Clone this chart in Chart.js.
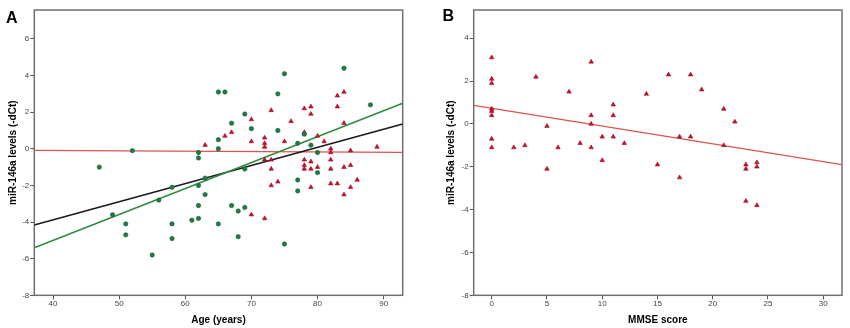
<!DOCTYPE html>
<html>
<head>
<meta charset="utf-8">
<script src="https://cdn.jsdelivr.net/npm/chart.js@4/dist/chart.umd.min.js"></script>
<style>
    body { margin: 0; background: #fff; }
    .wrap { position: relative; width: 850px; height: 328px; }
    canvas { position: absolute; top: 0; }
    #chartA { left: 0; }
    #chartB { left: 425px; }
</style>
</head>
<body>
<div class="wrap">
    <canvas id="chartA" width="425" height="328"></canvas>
    <canvas id="chartB" width="425" height="328"></canvas>
</div>
<script>
// Panel A: age vs miR-146a (green circles = controls, red triangles = AD)
const ageGreen = [47, 49, 51, 51, 52, 55, 56, 58, 58, 58, 61, 62, 62, 62, 62, 62, 63, 63, 65, 65, 65, 65, 66, 67, 67, 68, 68, 69, 69, 69, 70, 74, 74, 75, 75, 77, 77, 77, 78, 79, 80, 80, 84, 88];
const mirGreen = [-1.0, -3.6, -4.1, -4.7, -0.1, -5.8, -2.8, -2.1, -4.1, -4.9, -3.9, -0.2, -0.5, -2.0, -3.1, -3.8, -1.6, -2.5, 3.1, 0.5, 0.0, -4.1, 3.1, 1.4, -3.1, -3.4, -4.8, 1.9, -1.1, -3.2, 1.1, 3.0, 1.0, 4.1, -5.2, 0.3, -1.7, -2.3, 0.8, 0.2, -0.2, -1.3, 4.4, 2.4];
const ageRed = [63, 66, 67, 70, 70, 70, 72, 72, 72, 72, 72, 73, 73, 73, 73, 74, 75, 76, 78, 78, 78, 78, 78, 79, 79, 79, 79, 79, 80, 80, 81, 82, 82, 82, 82, 82, 83, 83, 83, 84, 84, 84, 84, 85, 85, 85, 86, 89];
const mirRed = [0.2, 0.7, 0.9, 1.6, 0.4, -3.6, 0.6, 0.3, 0.1, -0.6, -3.8, 2.1, -0.6, -1.1, -2.0, -1.8, 0.4, 1.5, 2.2, 0.9, -0.6, -0.9, -1.1, 2.3, 1.9, -0.7, -1.1, -2.1, 0.7, -1.0, 0.4, 0.0, -0.2, -0.6, -1.1, -1.9, 2.9, 2.3, -1.9, 3.1, 1.4, -1.0, -2.5, -0.1, -0.9, -2.1, -1.7, 0.1];

// fit lines, read at the ends of the x axis
const fitXA = [37.17, 92.88];
const fitRedA = [-0.09, -0.2];
const fitBlackA = [-4.16, 1.35];
const fitGreenA = [-5.4, 2.49];

const xTicksA = [40, 50, 60, 70, 80, 90];
const yTicksA = [-8, -6, -4, -2, 0, 2, 4, 6];

// Panel B: MMSE vs miR-146a
const mmse = [0, 0, 0, 0, 0, 0, 0, 0, 2, 3, 4, 5, 5, 6, 7, 8, 9, 9, 9, 9, 10, 10, 11, 11, 11, 12, 14, 15, 16, 17, 17, 18, 18, 19, 21, 21, 22, 23, 23, 23, 24, 24, 24];
const mirB = [3.1, 2.1, 1.9, 0.7, 0.6, 0.4, -0.7, -1.1, -1.1, -1.0, 2.2, -0.1, -2.1, -1.1, 1.5, -0.9, 2.9, 0.4, 0.0, -1.1, -0.6, -1.7, 0.9, 0.4, -0.6, -0.9, 1.4, -1.9, 2.3, -0.6, -2.5, 2.3, -0.6, 1.6, 0.7, -1.0, 0.1, -1.9, -2.1, -3.6, -1.8, -2.0, -3.8];

const fitXB = [-1.63, 31.7];
const fitRedB = [0.87, -1.9];

const xTicksB = [0, 5, 10, 15, 20, 25, 30];
const yTicksB = [-8, -6, -4, -2, 0, 2, 4];

const FONT = "'Liberation Sans', Arial, sans-serif";
const toPts = (xs, ys) => xs.map((x, i) => ({ x: x, y: ys[i] }));

// grey box round the plot area + panel letter
const framePlugin = {
    id: "frame",
    beforeDatasetsDraw(chart) {
        const a = chart.chartArea;
        const ctx = chart.ctx;
        ctx.save();
        ctx.strokeStyle = "#707070";
        ctx.lineWidth = 1.5;
        ctx.strokeRect(a.left, a.top, a.right - a.left, a.bottom - a.top);
        ctx.restore();
    },
    afterDraw(chart, args, opts) {
        const ctx = chart.ctx;
        ctx.save();
        ctx.fillStyle = "#000";
        ctx.font = "bold 16px " + FONT;
        ctx.textBaseline = "alphabetic";
        ctx.fillText(opts.letter, opts.lx, opts.ly);
        ctx.restore();
    }
};

function scatterSet(xs, ys, style, color, border, r) {
    return {
        type: "scatter",
        data: toPts(xs, ys),
        pointStyle: style,
        pointRadius: r,
        backgroundColor: color,
        borderColor: border,
        borderWidth: 0.6
    };
}

function lineSet(xs, ys, color, w) {
    return {
        type: "scatter",
        data: toPts(xs, ys),
        showLine: true,
        pointRadius: 0,
        borderColor: color,
        borderWidth: w,
        fill: false
    };
}

function axis(min, max, ticks, title, yAxis, size, titlePad) {
    return {
        type: "linear",
        min: min,
        max: max,
        afterBuildTicks: s => { s.ticks = ticks.map(v => ({ value: v })); },
        afterFit: s => { if (yAxis) s.width = size; else s.height = size; },
        border: { display: false },
        grid: { display: true, drawOnChartArea: false, drawTicks: true, tickLength: 4, color: "#555", lineWidth: 1 },
        ticks: {
            autoSkip: false, maxRotation: 0, padding: yAxis ? 1 : 0,
            color: "#444", font: { family: FONT, size: 8 }
        },
        title: {
            display: true, text: title, color: "#000",
            font: { family: FONT, size: 10, weight: "bold" },
            padding: yAxis ? { top: titlePad, bottom: 0 } : { top: 0, bottom: titlePad }
        }
    };
}

const baseOpts = {
    responsive: false,
    animation: false,
    devicePixelRatio: 1,
    plugins: { legend: { display: false }, tooltip: { enabled: false } }
};

new Chart(document.getElementById("chartA"), {
    type: "scatter",
    data: {
        datasets: [
            scatterSet(ageGreen, mirGreen, "circle", "#1f7a45", "#16633a", 2.2),
            scatterSet(ageRed, mirRed, "triangle", "#c8102e", "#9a0c22", 2.6),
            lineSet(fitXA, fitGreenA, "#2e8b3e", 1.5),
            lineSet(fitXA, fitBlackA, "#1a1a1a", 1.5),
            lineSet(fitXA, fitRedA, "#d9534f", 1.2)
        ]
    },
    options: Object.assign({}, baseOpts, {
        layout: { padding: { left: 0, right: 22.3, top: 10, bottom: 0 } },
        scales: {
            x: axis(37.17, 92.88, xTicksA, "Age (years)", false, 32.7, 1.5),
            y: axis(-8, 7.58, yTicksA, "miR-146a levels (-dCt)", true, 34.3, 7.3)
        },
        plugins: Object.assign({}, baseOpts.plugins, { frame: { letter: "A", lx: 6, ly: 23 } })
    }),
    plugins: [framePlugin]
});

new Chart(document.getElementById("chartB"), {
    type: "scatter",
    data: {
        datasets: [
            scatterSet(mmse, mirB, "triangle", "#c8102e", "#9a0c22", 2.6),
            lineSet(fitXB, fitRedB, "#d9534f", 1.2)
        ]
    },
    options: Object.assign({}, baseOpts, {
        layout: { padding: { left: 0, right: 8, top: 10, bottom: 0 } },
        scales: {
            x: axis(-1.63, 31.7, xTicksB, "MMSE score", false, 32.7, 1.5),
            y: axis(-8, 5.32, yTicksB, "miR-146a levels (-dCt)", true, 48.7, 20.7)
        },
        plugins: Object.assign({}, baseOpts.plugins, { frame: { letter: "B", lx: 17.5, ly: 20.5 } })
    }),
    plugins: [framePlugin]
});
</script>
</body>
</html>
